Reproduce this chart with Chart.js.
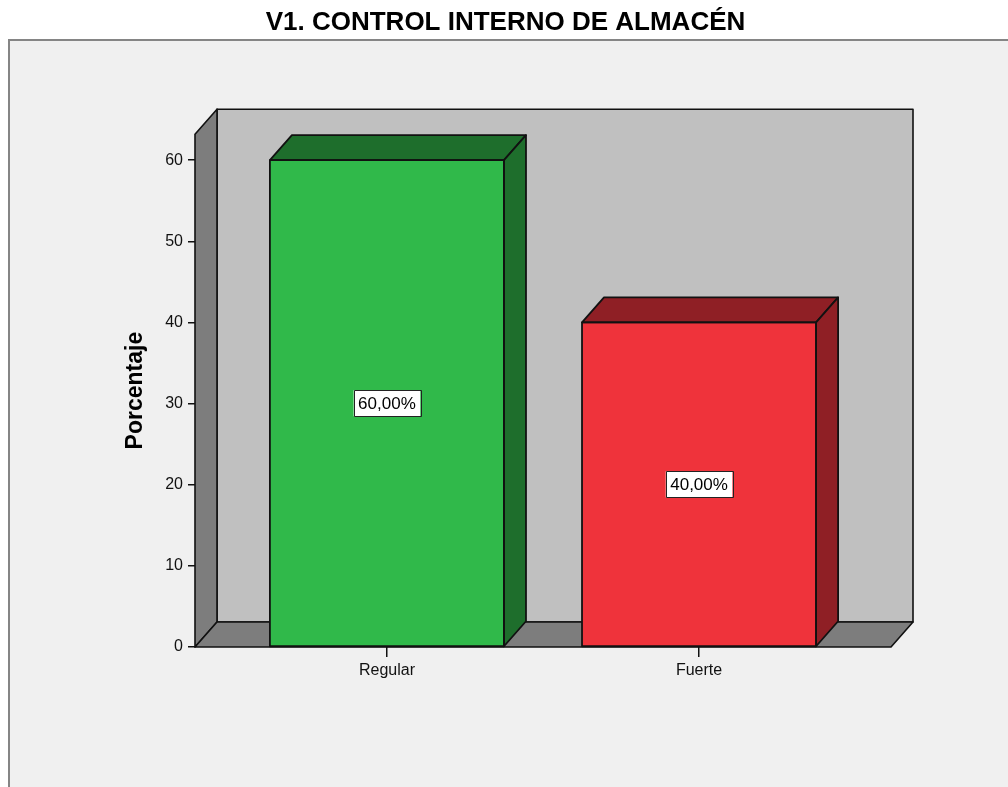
<!DOCTYPE html>
<html>
<head>
<meta charset="utf-8">
<script src="https://cdn.jsdelivr.net/npm/chart.js@4"></script>
<style>
  html, body { margin: 0; padding: 0; background: #fff; }
</style>
</head>
<body>
<canvas id="container" width="1008" height="787"></canvas>
<script>
const categories = ["Regular", "Fuerte"];
const percentages = [60, 40];
const yTicks = [0, 10, 20, 30, 40, 50, 60];

const frontColors = ["#30b94a", "#ef333b"];
const sideColors = ["#1e6e2c", "#8f1f25"];

// depth of the fake 3d
const DX = 22;
const DY = -25;

function poly(ctx, pts, fill) {
  ctx.beginPath();
  ctx.moveTo(pts[0][0], pts[0][1]);
  for (let i = 1; i < pts.length; i++) ctx.lineTo(pts[i][0], pts[i][1]);
  ctx.closePath();
  ctx.fillStyle = fill;
  ctx.fill();
  ctx.stroke();
}

const walls = {
  id: "walls",
  beforeDraw(chart) {
    const ctx = chart.ctx;
    const a = chart.chartArea;
    ctx.save();
    ctx.fillStyle = "#fff";
    ctx.fillRect(0, 0, chart.width, chart.height);
    ctx.fillStyle = "#f0f0f0";
    ctx.fillRect(9, 39, chart.width, chart.height);
    ctx.strokeStyle = "#858585";
    ctx.lineWidth = 2;
    ctx.beginPath();
    ctx.moveTo(9, chart.height);
    ctx.lineTo(9, 40);
    ctx.lineTo(chart.width, 40);
    ctx.stroke();

    ctx.strokeStyle = "#111";
    ctx.lineWidth = 1.6;
    ctx.lineJoin = "round";
    // back wall
    poly(ctx, [[a.left + DX, a.top + DY], [a.right + DX, a.top + DY], [a.right + DX, a.bottom + DY], [a.left + DX, a.bottom + DY]], "#c0c0c0");
    // left wall
    poly(ctx, [[a.left, a.top], [a.left + DX, a.top + DY], [a.left + DX, a.bottom + DY], [a.left, a.bottom]], "#7d7d7d");
    // floor
    poly(ctx, [[a.left, a.bottom], [a.left + DX, a.bottom + DY], [a.right + DX, a.bottom + DY], [a.right, a.bottom]], "#7d7d7d");
    ctx.restore();
  }
};

const bars3d = {
  id: "bars3d",
  afterDatasetsDraw(chart) {
    const ctx = chart.ctx;
    const meta = chart.getDatasetMeta(0);
    ctx.save();
    ctx.lineJoin = "round";
    meta.data.forEach((bar, i) => {
      const l = bar.x - bar.width / 2;
      const r = bar.x + bar.width / 2;
      const t = bar.y;
      const b = bar.base;
      ctx.strokeStyle = "#111";
      ctx.lineWidth = 1.8;
      poly(ctx, [[l, t], [l + DX, t + DY], [r + DX, t + DY], [r, t]], sideColors[i]);
      poly(ctx, [[r, t], [r + DX, t + DY], [r + DX, b + DY], [r, b]], sideColors[i]);
      ctx.strokeRect(l, t, r - l, b - t);

      // value label box
      const txt = percentages[i].toFixed(2).replace(".", ",") + "%";
      ctx.font = "17px 'Liberation Sans', Arial, sans-serif";
      const w = ctx.measureText(txt).width + 9;
      const h = 26;
      const cy = (t + b) / 2;
      ctx.fillStyle = "#fff";
      ctx.fillRect(bar.x - w / 2, cy - h / 2, w, h);
      ctx.lineWidth = 1;
      ctx.strokeStyle = "#222";
      ctx.strokeRect(Math.round(bar.x - w / 2) + 0.5, Math.round(cy - h / 2) + 0.5, Math.round(w), h);
      ctx.fillStyle = "#000";
      ctx.textAlign = "center";
      ctx.textBaseline = "middle";
      ctx.fillText(txt, bar.x, cy + 1);
    });
    ctx.restore();
  }
};

const config = {
  type: "bar",
  data: {
    datasets: [{
      data: percentages.map((v, i) => ({ x: i, y: v })),
      backgroundColor: frontColors,
      borderColor: "#111",
      borderWidth: 0,
      categoryPercentage: 0.75,
      barPercentage: 1
    }]
  },
  options: {
    responsive: false,
    animation: false,
    layout: { padding: { left: 120, right: 117, top: 0, bottom: 0 } },
    plugins: {
      legend: { display: false },
      tooltip: { enabled: false },
      title: {
        display: true,
        text: "V1. CONTROL INTERNO DE ALMACÉN",
        color: "#000",
        font: { family: "'Liberation Sans', Arial, sans-serif", size: 26, weight: "bold" },
        padding: { top: 7, bottom: 96 }
      }
    },
    scales: {
      x: {
        type: "linear",
        min: -0.615,
        max: 1.615,
        offset: false,
        afterBuildTicks: (axis) => { axis.ticks = categories.map((c, i) => ({ value: i })); },
        afterFit: (axis) => { axis.height = 140; },
        grid: { offset: false, drawOnChartArea: false, drawTicks: true, tickLength: 10, color: "#111", lineWidth: 1.5 },
        border: { display: false },
        ticks: {
          callback: (v) => categories[v],
          color: "#111",
          padding: 4,
          maxRotation: 0,
          font: { family: "'Liberation Sans', Arial, sans-serif", size: 16 }
        }
      },
      y: {
        min: 0,
        max: 63.2,
        afterBuildTicks: (axis) => { axis.ticks = yTicks.map((v) => ({ value: v })); },
        afterFit: (axis) => { axis.width = 75; },
        grid: { drawOnChartArea: false, drawTicks: true, tickLength: 7, color: "#111", lineWidth: 1.5 },
        border: { display: false },
        title: {
          display: true,
          text: "Porcentaje",
          color: "#000",
          padding: { top: 2, bottom: 0 },
          font: { family: "'Liberation Sans', Arial, sans-serif", size: 23, weight: "bold" }
        },
        ticks: {
          color: "#111",
          padding: 5,
          font: { family: "'Liberation Sans', Arial, sans-serif", size: 16 }
        }
      }
    }
  },
  plugins: [walls, bars3d]
};

const chart = new Chart(document.getElementById("container"), config);
</script>
</body>
</html>
